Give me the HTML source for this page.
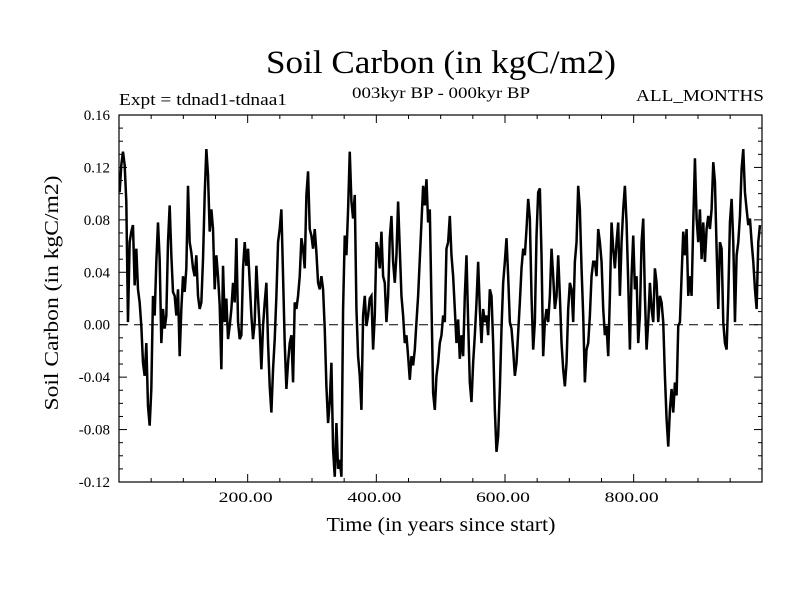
<!DOCTYPE html>
<html><head><meta charset="utf-8"><style>
html,body{margin:0;padding:0;background:#fff;}
svg{display:block;font-family:"Liberation Serif",serif;}
</style></head><body>
<svg id="chart" width="800" height="600" viewBox="0 0 800 600">
<text x="441" y="73" text-anchor="middle" font-size="33" textLength="350" lengthAdjust="spacingAndGlyphs">Soil Carbon (in kgC/m2)</text>
<text x="119" y="105" font-size="17" textLength="168" lengthAdjust="spacingAndGlyphs">Expt = tdnad1-tdnaa1</text>
<text x="441" y="98" text-anchor="middle" font-size="16" textLength="178" lengthAdjust="spacingAndGlyphs">003kyr BP - 000kyr BP</text>
<text x="764" y="101" text-anchor="end" font-size="17" textLength="128" lengthAdjust="spacingAndGlyphs">ALL_MONTHS</text>
<text x="441" y="531" text-anchor="middle" font-size="20" textLength="229" lengthAdjust="spacingAndGlyphs">Time (in years since start)</text>
<text transform="translate(58,293) rotate(-90)" text-anchor="middle" font-size="20" textLength="235" lengthAdjust="spacingAndGlyphs">Soil Carbon (in kgC/m2)</text>
<g id="axes"></g>
<g id="series"></g>
<rect x="119" y="115" width="643" height="367" fill="none" stroke="#000" stroke-width="1.2"/>
</svg>
<script>
const startYear = 1;
const yearStep = 2.592;
const values = [
101,122,132,122,94,2,63,71,76,30,58,27,17,-1,-29,-39,-14,-62,-77,-49,22,7,48,78,50,-14,12,-3,7,63,91,53,25,22,7,27,-24,12,37,25,43,106,63,55,43,37,53,22,12,17,50,99,134,114,71,88,73,27,53,37,15,-34,45,2,20,-11,-1,12,32,17,66,2,-11,-8,43,63,45,58,32,7,-11,2,45,20,-3,-34,-1,17,32,-14,-47,-67,-34,
-11,22,63,73,88,37,-14,-49,-29,-14,-8,-44,17,12,22,37,66,58,43,99,117,73,68,58,73,55,32,27,37,27,-3,-47,-75,-59,-29,-95,-116,-75,-110,-103,-116,12,68,53,88,132,94,81,99,12,-24,-39,-65,7,22,-1,7,20,22,-19,7,63,58,43,71,37,32,2,22,66,83,48,32,53,94,58,22,7,-14,-8,-24,-42,-24,-31,-19,2,22,50,78,106,91,111,78,88,17,-52,
-65,-39,-29,-14,-8,7,2,58,63,83,53,37,12,-14,4,-26,-8,-24,22,53,2,-44,-59,-29,-8,17,48,12,-14,12,2,7,-8,27,22,-14,-65,-97,-85,-49,-3,32,48,66,37,2,-3,-19,-39,-29,-6,17,43,58,53,73,96,81,22,-19,2,68,101,104,53,-24,2,12,2,22,58,37,12,22,53,22,-14,-34,-47,-29,12,32,27,2,48,63,106,88,43,7,-44,-19,-14,7,37,48,
48,37,73,63,48,12,-8,-1,-24,22,78,58,43,63,78,22,63,88,106,78,32,-19,37,68,27,37,-14,7,63,81,22,-19,2,32,12,2,43,32,2,22,17,2,-39,-72,-93,-65,-49,-67,-44,-54,-1,2,37,71,53,73,22,37,22,78,127,81,63,88,50,78,48,73,83,73,88,124,109,58,12,63,58,2,-14,-19,22,78,96,63,2,53,63,83,119,134,101,88,76,81,63,48,27,12,63,76
];
const yTickValues = [-0.12,-0.08,-0.04,0.00,0.04,0.08,0.12,0.16];
const yTickLabels = ["-0.12","-0.08","-0.04","0.00","0.04","0.08","0.12","0.16"];
const xTickValues = [200,400,600,800];
const xTickLabels = ["200.00","400.00","600.00","800.00"];

const NS="http://www.w3.org/2000/svg";
const X0=119,X1=762,Y0=115,Y1=482;
const xMin=0,xMax=999.5,yMin=-0.12,yMax=0.16;
function xs(v){return X0+(v-xMin)/(xMax-xMin)*(X1-X0);}
function ys(v){return Y1-(v-yMin)/(yMax-yMin)*(Y1-Y0);}
function mk(tag,attrs,parent){const e=document.createElementNS(NS,tag);for(const k in attrs)e.setAttribute(k,attrs[k]);parent.appendChild(e);return e;}
const axes=document.getElementById('axes');
for(let k=-12;k<=16;k++){
  const y=ys(k/100);const major=(k%4===0);const L=major?8:4;
  const t1=mk('line',{x1:X0,x2:X0+L,y1:y,y2:y,stroke:'#000','stroke-width':1},axes);
  
  
  const t2=mk('line',{x1:X1,x2:X1-L,y1:y,y2:y,stroke:'#000','stroke-width':1},axes);
  
  
}
yTickValues.forEach((v,i)=>{
  const t=mk('text',{x:110,y:ys(v)+5,'text-anchor':'end','font-size':15},axes);
  t.textContent=yTickLabels[i];
  
  
});
for(let yr=50;yr<1000;yr+=50){
  const x=xs(yr);const major=(yr%200===0);const L=major?8:4;
  const b=mk('line',{x1:x,x2:x,y1:Y1,y2:Y1-L,stroke:'#000','stroke-width':1},axes);
  
  
  const t=mk('line',{x1:x,x2:x,y1:Y0,y2:Y0+L,stroke:'#000','stroke-width':1},axes);
  
  
}
xTickValues.forEach((v,i)=>{
  const t=mk('text',{x:xs(v)-2,y:502,'text-anchor':'middle','font-size':15,textLength:54,lengthAdjust:'spacingAndGlyphs'},axes);
  t.textContent=xTickLabels[i];
  
  
});
const zl=mk('line',{x1:X0,x2:X1,y1:ys(0),y2:ys(0),stroke:'#000','stroke-width':1,'stroke-dasharray':'9,6'},axes);


const series=document.getElementById('series');
let d='';
values.forEach((v,i)=>{const yr=startYear+i*yearStep;d+=(i?'L':'M')+xs(yr).toFixed(2)+','+ys(v/1000).toFixed(2);});
const p=mk('path',{d:d,fill:'none',stroke:'#000','stroke-width':2.5,'stroke-linejoin':'miter'},series);


</script>
</body></html>
